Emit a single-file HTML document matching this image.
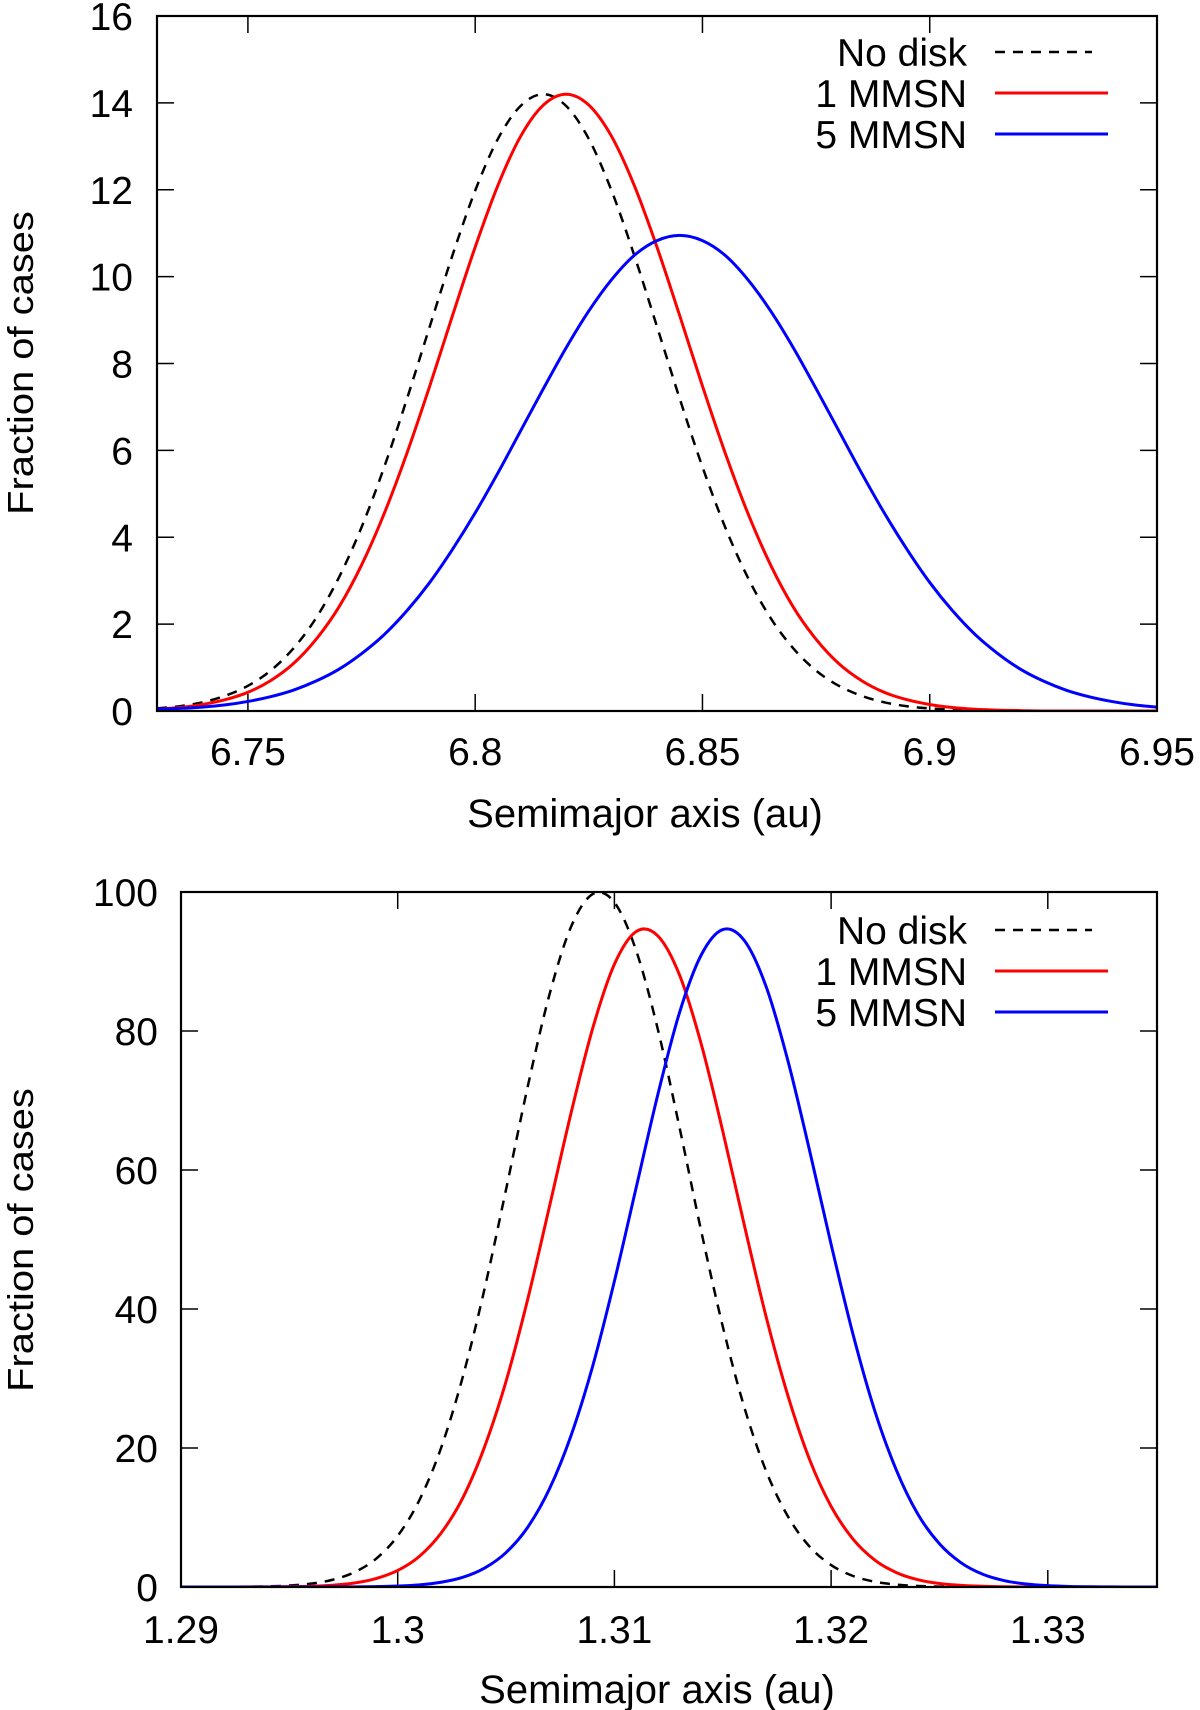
<!DOCTYPE html>
<html><head><meta charset="utf-8">
<style>
html,body{margin:0;padding:0;background:#fff;}
svg{display:block;font-family:"Liberation Sans",Arial,sans-serif;}
</style></head>
<body>
<svg id="fig" width="1200" height="1710" viewBox="0 0 1200 1710"></svg>
<script>
// ---- Top chart data (x from 6.73 step 0.005) ----
const topXStart = 6.73;
const topXStep = 0.005;
const topXTicks = [6.75, 6.8, 6.85, 6.9, 6.95];
const topXTickLabels = ["6.75", "6.8", "6.85", "6.9", "6.95"];
const topYTicks = [0, 2, 4, 6, 8, 10, 12, 14, 16];
const topNoDisk = [0.06,0.11,0.20,0.35,0.58,0.93,1.44,2.14,3.07,4.23,5.62,7.19,8.85,10.49,11.98,13.17,13.93,14.2,13.93,13.17,11.98,10.49,8.85,7.19,5.62,4.23,3.07,2.14,1.44,0.93,0.58,0.35,0.20,0.11,0.06,0.03,0.02,0.01,0,0,0,0,0,0,0];
const top1MMSN = [0.04,0.08,0.15,0.26,0.43,0.70,1.09,1.65,2.39,3.36,4.55,5.94,7.48,9.10,10.68,12.10,13.23,13.95,14.2,13.95,13.23,12.10,10.68,9.10,7.48,5.94,4.55,3.36,2.39,1.65,1.09,0.70,0.43,0.26,0.15,0.08,0.04,0.02,0.01,0,0,0,0,0,0];
const top5MMSN = [0.04,0.06,0.09,0.14,0.22,0.33,0.48,0.69,0.96,1.32,1.76,2.31,2.96,3.72,4.56,5.48,6.45,7.42,8.36,9.21,9.93,10.49,10.83,10.95,10.83,10.49,9.93,9.21,8.36,7.42,6.45,5.48,4.56,3.72,2.96,2.31,1.76,1.32,0.96,0.69,0.48,0.33,0.22,0.14,0.09];

// ---- Bottom chart data (x from 1.290 step 0.001) ----
const botXStart = 1.29;
const botXStep = 0.001;
const botXTicks = [1.29, 1.3, 1.31, 1.32, 1.33];
const botXTickLabels = ["1.29", "1.3", "1.31", "1.32", "1.33"];
const botYTicks = [0, 20, 40, 60, 80, 100];
const botNoDisk = [0,0,0.01,0.03,0.09,0.21,0.48,1.04,2.12,4.06,7.35,12.5,20.0,30.2,42.8,57.2,72.0,85.2,95.0,99.7,98.5,91.6,80.3,66.2,51.3,37.5,25.8,16.7,10.2,5.84,3.16,1.60,0.77,0.35,0.15,0.06,0.02,0.01,0,0,0,0,0,0,0,0];
const bot1MMSN = [0,0,0,0.01,0.02,0.05,0.11,0.26,0.58,1.22,2.38,4.41,7.75,12.8,20.1,29.6,41.4,54.7,68.2,80.4,89.6,94.3,93.7,88.1,78.2,65.6,52.0,38.9,27.6,18.4,11.6,6.94,3.92,2.09,1.05,0.50,0.23,0.10,0.04,0.01,0,0,0,0,0,0];
const bot5MMSN = [0,0,0,0,0,0,0,0.01,0.02,0.06,0.14,0.31,0.68,1.39,2.71,4.96,8.60,14.1,21.8,31.8,44.0,57.4,70.8,82.6,90.9,94.6,93.0,86.4,75.8,62.9,49.3,36.5,25.5,16.9,10.5,6.22,3.48,1.83,0.91,0.43,0.19,0.08,0.03,0.01,0,0];

const legendLabels = ["No disk", "1 MMSN", "5 MMSN"];

const NS = "http://www.w3.org/2000/svg";
const svg = document.getElementById('fig');
function mk(tag, attrs, parent) {
  const e = document.createElementNS(NS, tag);
  for (const k in attrs) e.setAttribute(k, attrs[k]);
  (parent || svg).appendChild(e);
  return e;
}
function splinePath(pts) {
  let d = "M" + pts[0][0].toFixed(2) + "," + pts[0][1].toFixed(2);
  for (let i = 0; i < pts.length - 1; i++) {
    const p0 = pts[Math.max(0, i - 1)], p1 = pts[i], p2 = pts[i + 1], p3 = pts[Math.min(pts.length - 1, i + 2)];
    const c1x = p1[0] + (p2[0] - p0[0]) / 6, c1y = p1[1] + (p2[1] - p0[1]) / 6;
    const c2x = p2[0] - (p3[0] - p1[0]) / 6, c2y = p2[1] - (p3[1] - p1[1]) / 6;
    d += " C" + c1x.toFixed(2) + "," + c1y.toFixed(2) + " " + c2x.toFixed(2) + "," + c2y.toFixed(2) + " " + p2[0].toFixed(2) + "," + p2[1].toFixed(2);
  }
  return d;
}

function drawChart(c) {
  const g = mk('g', {});
  
  
  const xs = v => c.L + (v - c.xmin) / (c.xmax - c.xmin) * (c.R - c.L);
  const ys = v => c.B - (v - c.ymin) / (c.ymax - c.ymin) * (c.B - c.T);
  const clipId = c.name + '-clip';
  const cp = mk('clipPath', {id: clipId}, g);
  mk('rect', {x: c.L, y: c.T, width: c.R - c.L, height: c.B - c.T}, cp);

  c.yTicks.forEach(v => {
    const y = ys(v);
    const t1 = mk('line', {x1: c.L, y1: y, x2: c.L + 17, y2: y, stroke: '#000', 'stroke-width': 1.5}, g);
    
    
    const t2 = mk('line', {x1: c.R, y1: y, x2: c.R - 17, y2: y, stroke: '#000', 'stroke-width': 1.5}, g);
    
    
    const tl = mk('text', {x: c.ylabX, y: y + 14, 'text-anchor': 'end', 'font-size': 39}, g);
    tl.textContent = String(v);
    
    
  });
  c.xTicks.forEach((v, i) => {
    const x = xs(v);
    const t1 = mk('line', {x1: x, y1: c.B, x2: x, y2: c.B - 17, stroke: '#000', 'stroke-width': 1.5}, g);
    
    
    const t2 = mk('line', {x1: x, y1: c.T, x2: x, y2: c.T + 17, stroke: '#000', 'stroke-width': 1.5}, g);
    
    
    const tl = mk('text', {x: x, y: c.xlabY, 'text-anchor': 'middle', 'font-size': 39}, g);
    tl.textContent = c.xTickLabels[i];
    
    
  });

  c.series.forEach(s => {
    const pts = s.vals.map((v, i) => [xs(c.xStart + i * c.xStep), ys(v)]);
    const attrs = {d: splinePath(pts), fill: 'none', stroke: s.color, 'stroke-width': s.dash ? 2.5 : 3, 'clip-path': 'url(#' + clipId + ')'};
    if (s.dash) attrs['stroke-dasharray'] = '10,8';
    const p = mk('path', attrs, g);
    
    
  });

  const fr = mk('rect', {x: c.L, y: c.T, width: c.R - c.L, height: c.B - c.T, fill: 'none', stroke: '#000', 'stroke-width': 2.2}, g);
  
  

  const lg = mk('g', {}, g);
  
  
  c.series.forEach((s, i) => {
    const y = c.legY + i * 41;
    const e = mk('g', {}, lg);
    
    
    const t = mk('text', {x: 967, y: y + 14, 'text-anchor': 'end', 'font-size': 39}, e);
    t.textContent = legendLabels[i];
    const la = {x1: 995, y1: y, x2: s.dash ? 1092 : 1108, y2: y, stroke: s.color, 'stroke-width': s.dash ? 2.5 : 3};
    if (s.dash) la['stroke-dasharray'] = '10,8';
    mk('line', la, e);
  });

  const xt = mk('text', {x: (c.L + c.R) / 2 - 12, y: c.xTitleY, 'text-anchor': 'middle', 'font-size': 40}, g);
  xt.textContent = 'Semimajor axis (au)';
  
  
  const yt = mk('text', {x: 0, y: 0, 'text-anchor': 'middle', 'font-size': 42, transform: 'translate(33,' + c.yTitleY + ') rotate(-90) scale(0.95,0.85)'}, g);
  yt.textContent = 'Fraction of cases';
  
  
}

drawChart({name: 'top-chart', L: 157, R: 1157, T: 16, B: 711, xmin: 6.73, xmax: 6.95, ymin: 0, ymax: 16,
  xStart: topXStart, xStep: topXStep, xTicks: topXTicks, xTickLabels: topXTickLabels, yTicks: topYTicks,
  ylabX: 133, xlabY: 765, xTitleY: 827, yTitleY: 363, legY: 52,
  series: [
    {id: 'no-disk-line', vals: topNoDisk, color: '#000', dash: true},
    {id: 'mmsn1-line', vals: top1MMSN, color: '#f00', dash: false},
    {id: 'mmsn5-line', vals: top5MMSN, color: '#00f', dash: false}
  ]});

drawChart({name: 'bottom-chart', L: 181, R: 1157, T: 892, B: 1587, xmin: 1.29, xmax: 1.29 + (1157 - 181) / 21670, ymin: 0, ymax: 100,
  xStart: botXStart, xStep: botXStep, xTicks: botXTicks, xTickLabels: botXTickLabels, yTicks: botYTicks,
  ylabX: 158, xlabY: 1643, xTitleY: 1703, yTitleY: 1240, legY: 930,
  series: [
    {id: 'no-disk-line', vals: botNoDisk, color: '#000', dash: true},
    {id: 'mmsn1-line', vals: bot1MMSN, color: '#f00', dash: false},
    {id: 'mmsn5-line', vals: bot5MMSN, color: '#00f', dash: false}
  ]});
</script>
</body></html>
